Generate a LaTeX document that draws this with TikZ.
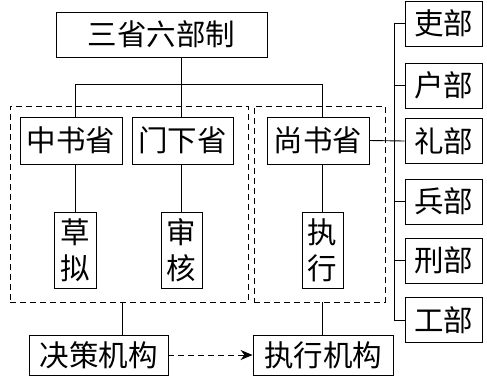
\documentclass[tikz,border=0pt]{standalone}
\usepackage{fontspec}
\setmainfont{Noto Sans CJK SC}
\usetikzlibrary{arrows.meta}
\begin{document}
\begin{tikzpicture}[x=1pt,y=-1pt,line width=0.9pt,
  box/.style={draw,inner sep=0pt,font=\fontsize{29.5}{36}\selectfont,align=center},
  dbox/.style={draw,dash pattern=on 6pt off 4pt,inner sep=0pt}]
\useasboundingbox (0,0) rectangle (487,381);
% dashed groups
\node[dbox,minimum width=238pt,minimum height=196pt] (dl) at (129,204) {};
\node[dbox,minimum width=131pt,minimum height=196pt] (dr) at (319.5,204) {};
% main boxes
\node[box,minimum width=211pt,minimum height=45pt] (top) at (161.5,34.5) {三省六部制};
\node[box,minimum width=102pt,minimum height=47pt] (zhong) at (71,140.5) {中书省};
\node[box,minimum width=101pt,minimum height=47pt] (men) at (182.5,140.5) {门下省};
\node[box,minimum width=102pt,minimum height=47pt] (shang) at (318,140.5) {尚书省};
\node[box,minimum width=42pt,minimum height=76pt] (cao) at (75,250) {草\\拟};
\node[box,minimum width=41pt,minimum height=76pt] (shen) at (181.5,250) {审\\核};
\node[box,minimum width=41pt,minimum height=76pt] (zx) at (322.5,250) {执\\行};
\node[box,minimum width=139pt,minimum height=40pt] (jc) at (98.5,355) {决策机构};
\node[box,minimum width=140pt,minimum height=40pt] (zxjg) at (323,355) {执行机构};
% six ministries
\node[box,minimum width=77pt,minimum height=45pt] (li1) at (443.5,23.5) {吏部};
\node[box,minimum width=77pt,minimum height=45pt] (hu) at (443.5,85.5) {户部};
\node[box,minimum width=77pt,minimum height=45pt] (li2) at (443.5,141) {礼部};
\node[box,minimum width=77pt,minimum height=45pt] (bing) at (443.5,201.5) {兵部};
\node[box,minimum width=77pt,minimum height=45pt] (xing) at (443.5,260.5) {刑部};
\node[box,minimum width=77pt,minimum height=45pt] (gong) at (443.5,320) {工部};
% connectors
\coordinate (hl) at (0,84);
\coordinate (bus) at (394,0);
\coordinate (jcx) at (122,0);
\draw (cao |- zhong.north) -- (cao |- hl) -- (zx |- hl) -- (zx |- shang.north);
\draw (shen |- top.south) -- (shen |- men.north);
\draw (cao |- zhong.south) -- (cao.north);
\draw (shen |- men.south) -- (shen.north);
\draw (zx |- shang.south) -- (zx.north);
\draw (jcx |- dl.south) -- (jcx |- jc.north);
\draw (zx |- dr.south) -- (zx |- zxjg.north);
\draw[dash pattern=on 6pt off 4pt,-{Stealth[length=12pt,width=10pt]}] (jc.east) -- (zxjg.west);
\draw (shang.east) -- (li2.west);
\draw (bus |- li1.west) -- (bus |- gong.west);
\foreach \n in {li1,hu,bing,xing,gong} \draw (bus |- \n.west) -- (\n.west);
\end{tikzpicture}
\end{document}
